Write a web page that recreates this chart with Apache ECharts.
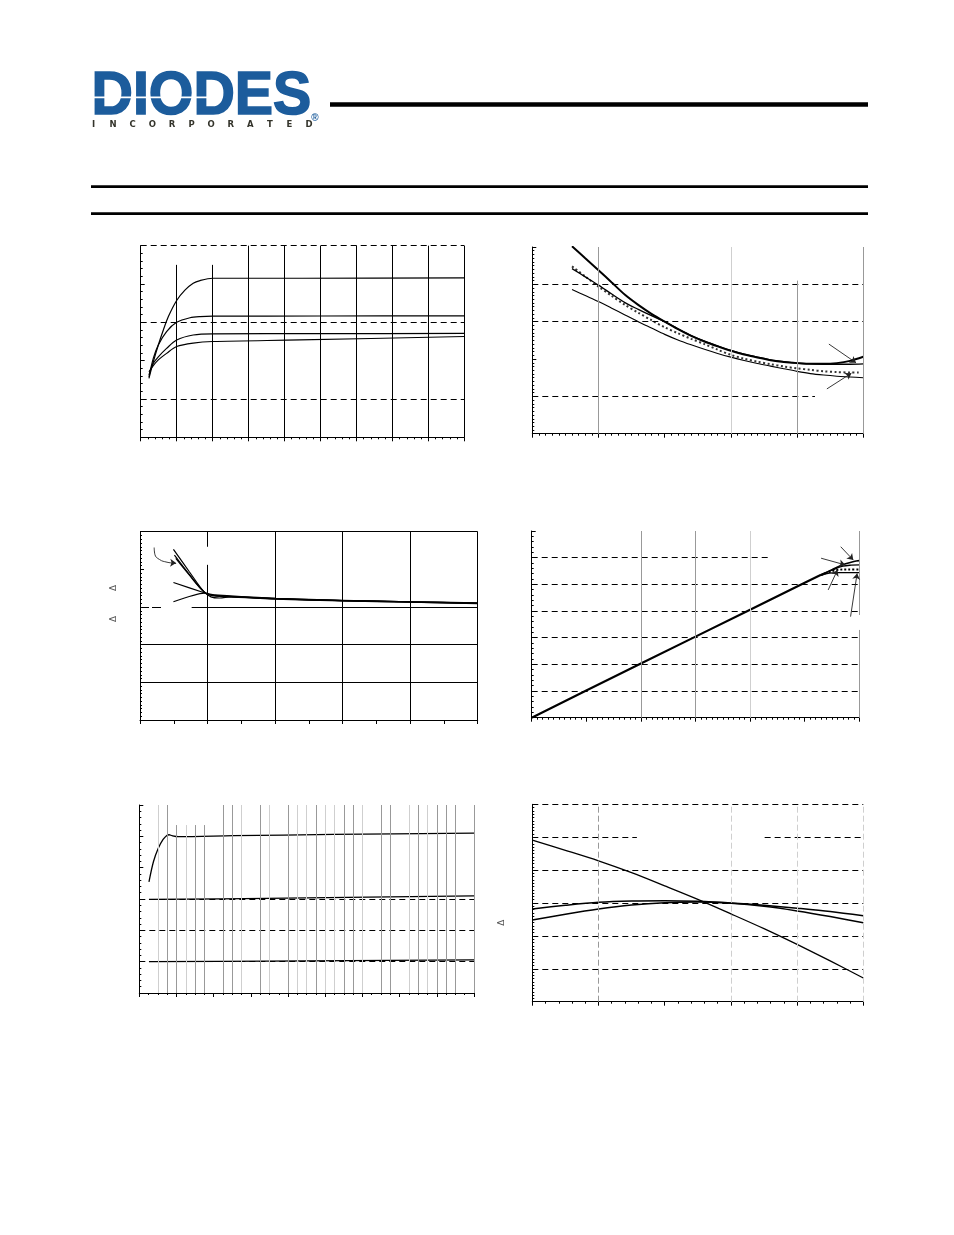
<!DOCTYPE html>
<html><head><meta charset="utf-8">
<script src="https://cdn.jsdelivr.net/npm/echarts@6/dist/echarts.min.js"></script>
<style>html,body{margin:0;padding:0;background:#fff}#c{width:954px;height:1235px}</style>
</head><body><div id="c"></div>
<script>
// ---------- DATA ----------
// Chart 1 (top-left)
const c1A = [[0.23,1.54],[0.35,1.97],[0.49,2.41],[0.63,2.80],[0.77,3.15],[1.0,3.57],[1.23,3.84],[1.46,4.02],[1.65,4.09],[2.0,4.15],[4.5,4.15],[9,4.16]];
const c1B = [[0.23,1.58],[0.35,2.06],[0.49,2.41],[0.72,2.76],[1.0,3.0],[1.37,3.12],[1.65,3.15],[2.0,3.16],[5,3.165],[9,3.17]];
const c1C = [[0.23,1.63],[0.35,1.93],[0.49,2.10],[0.72,2.32],[1.0,2.54],[1.46,2.67],[2.0,2.70],[5,2.705],[9,2.71]];
const c1D = [[0.23,1.71],[0.35,1.87],[0.49,2.02],[0.72,2.19],[1.0,2.37],[1.46,2.46],[2.0,2.50],[4.43,2.54],[9,2.63]];
// Chart 2 (top-right)
const c2T = [[0.6,5.02],[0.8,4.70],[1.0,4.38],[1.2,4.05],[1.4,3.72],[1.6,3.45],[1.8,3.21],[2.0,3.0],[2.2,2.80],[2.4,2.62],[2.6,2.47],[2.8,2.34],[3.0,2.22],[3.2,2.12],[3.4,2.04],[3.6,1.97],[3.8,1.92],[4.0,1.89],[4.2,1.87],[4.4,1.87],[4.6,1.89],[4.8,1.95],[5.0,2.06]];
const c2S = [[0.6,4.42],[0.8,4.20],[1.0,3.98],[1.2,3.74],[1.4,3.51],[1.6,3.33],[1.8,3.16],[2.0,3.0],[2.2,2.81],[2.4,2.63],[2.6,2.48],[2.8,2.35],[3.0,2.23],[3.2,2.13],[3.4,2.05],[3.6,1.98],[3.8,1.93],[4.0,1.89],[4.2,1.87],[4.4,1.86],[4.6,1.86],[4.8,1.86],[5.0,1.87]];
const c2D = [[0.6,4.48],[0.8,4.21],[1.0,3.94],[1.2,3.69],[1.4,3.45],[1.6,3.24],[1.8,3.04],[2.0,2.85],[2.2,2.69],[2.4,2.54],[2.6,2.40],[2.8,2.25],[3.0,2.11],[3.2,2.01],[3.4,1.93],[3.6,1.86],[3.8,1.80],[4.0,1.75],[4.2,1.71],[4.4,1.67],[4.6,1.65],[4.8,1.64],[4.93,1.64]];
const c2L = [[0.6,3.86],[0.8,3.70],[1.0,3.54],[1.2,3.36],[1.4,3.18],[1.6,3.0],[1.8,2.83],[2.0,2.66],[2.2,2.51],[2.4,2.38],[2.6,2.26],[2.8,2.15],[3.0,2.05],[3.2,1.96],[3.4,1.88],[3.6,1.81],[3.8,1.74],[4.0,1.67],[4.2,1.61],[4.4,1.57],[4.6,1.54],[4.8,1.52],[5.0,1.50]];
const c2Arrows = [[[4.48,2.40],[4.89,1.90]],[[4.45,1.20],[4.82,1.62]]];
// Chart 3 (middle-left)
const c3L1 = [[0.99,4.53],[1.45,3.95],[1.9,3.40],[2.1,3.27],[2.35,3.24],[2.7,3.27],[4,3.22],[6,3.17],[8,3.14],[10,3.1]];
const c3L2 = [[1.02,4.38],[1.45,3.88],[1.9,3.40],[2.15,3.30],[2.6,3.28],[4,3.23],[6,3.18],[8,3.14],[10,3.11]];
const c3L3 = [[1.06,4.29],[1.45,3.86],[1.9,3.40],[2.2,3.31],[4,3.22],[6,3.17],[8,3.13],[10,3.1]];
const c3L4 = [[0.99,3.65],[1.9,3.38],[2.2,3.30],[4,3.21],[6,3.16],[8,3.13],[10,3.09]];
const c3L5 = [[0.99,3.14],[1.9,3.37],[2.2,3.32],[4,3.23],[6,3.17],[8,3.14],[10,3.1]];
const c3ArrowPath = [[0.42,4.58],[0.44,4.40],[0.58,4.26],[0.80,4.19],[0.96,4.17]];
const c3ArrowHead = [[[0.93,4.175],[1.07,4.17]]];
// Chart 4 (middle-right)
const c4Main = [[0,0],[1,1.02],[2,2.03],[3,3.04],[4,4.05],[5,5.06],[5.3,5.36]];
const c4B1 = [[5.3,5.36],[5.5,5.55],[5.75,5.77],[5.9,5.86],[6,5.89]];
const c4B2 = [[5.3,5.36],[5.5,5.53],[5.7,5.68],[5.85,5.72],[6,5.73]];
const c4B3 = [[5.3,5.35],[5.45,5.46],[5.6,5.54],[5.8,5.56],[6,5.56]];
const c4B4 = [[5.3,5.34],[5.45,5.42],[5.6,5.44],[6,5.44]];
const c4Arrows = [[[5.66,6.41],[5.89,5.91]],[[5.30,5.98],[5.74,5.73]],[[5.43,4.79],[5.60,5.54]],[[5.84,3.79],[5.96,5.41]]];
// Chart 5 (bottom-left)
const c5Top = [[0.26,3.55],[0.38,4.19],[0.51,4.62],[0.64,4.90],[0.74,5.03],[0.8,5.05],[0.88,5.02],[1.05,4.99],[2.53,5.02],[5.22,5.06],[9,5.10]];
const c5Mid = [[0.26,2.99],[3.42,3.02],[9,3.10]];
const c5Bot = [[0.26,1.0],[3.42,1.02],[9,1.06]];
// Chart 6 (bottom-right)
const c6Steep = [[0,4.91],[0.5,4.60],[1.0,4.28],[1.5,3.92],[2.0,3.52],[2.5,3.11],[3.0,2.67],[3.5,2.22],[4.0,1.74],[4.5,1.24],[5.0,0.72]];
const c6Up = [[0,2.82],[0.5,2.93],[1.0,3.02],[1.5,3.06],[2.0,3.07],[2.5,3.05],[3.0,3.0],[3.5,2.93],[4.0,2.84],[4.5,2.74],[5.0,2.61]];
const c6Low = [[0,2.48],[0.5,2.66],[1.0,2.82],[1.5,2.94],[2.0,3.01],[2.5,3.03],[3.0,2.99],[3.5,2.90],[4.0,2.76],[4.5,2.59],[5.0,2.40]];
// Text
const logoText = 'DIODES';
const logoSub = ['I','N','C','O','R','P','O','R','A','T','E','D'];
const deltaMark = 'Δ';

// ---------- LAYOUT ----------
const grids = [
  {left:140.7, top:245.7, width:323.6, height:191.6},
  {left:532.3, top:247, width:331, height:186.7},
  {left:140, top:531.7, width:337.7, height:188.3},
  {left:531.7, top:531, width:327.6, height:186.7},
  {left:139.3, top:805, width:334.7, height:188},
  {left:532.3, top:804.3, width:331, height:197.4}
];
const axisCfg = [
  {x:[0,9,1,5], y:[0,5,1,5]},
  {x:[0,5,1,10], y:[0,5,1,10]},
  {x:[0,10,1,0], y:[0,5,1,10]},
  {x:[0,6,1,10], y:[0,7,1,5]},
  {x:[0,9,1,4], y:[0,6,1,5]},
  {x:[0,5,1,5], y:[0,6,1,10]}
];
function mkAxis(i, c, inside) {
  return {type:'value', gridIndex:i, min:c[0], max:c[1], interval:c[2],
    axisLine:{show:true, onZero:false, lineStyle:{color:'#000', width:1}},
    axisTick:{show:true, inside:inside, length:4, lineStyle:{color:'#000', width:1}},
    minorTick:{show:c[3]>0, splitNumber:c[3]||5, length:2, lineStyle:{color:'#000', width:1}},
    axisLabel:{show:false}, splitLine:{show:false}, minorSplitLine:{show:false}};
}
const DASH = {color:'#000', width:1, type:[6,4]};
const SOLID = {color:'#000', width:1, type:'solid'};
const GRAY = {color:'#999', width:1, type:'solid'};
const LIGHT = {color:'#cfcfcf', width:1, type:'solid'};
const GRAYD = {color:'#999', width:1, type:[6,3]};
const LIGHTD = {color:'#cfcfcf', width:1, type:[6,3]};
function seg(p1, p2, st) { return [{coord:p1, lineStyle:st}, {coord:p2, lineStyle:st}]; }
function h(y, x1, x2, st) { return seg([x1,y],[x2,y],st); }
function v(x, y1, y2, st) { return seg([x,y1],[x,y2],st); }

const gridLines = [
  // chart 1
  [h(1,0,9,DASH), h(3,0,9,DASH), h(5,0,9,DASH), v(1,0,4.5,SOLID), v(2,0,4.5,SOLID),
   v(3,0,5,SOLID), v(4,0,5,SOLID), v(5,0,5,SOLID), v(6,0,5,SOLID), v(7,0,5,SOLID), v(8,0,5,SOLID), v(9,0,5,SOLID)],
  // chart 2
  [h(4,0,5,DASH), h(3,0,5,DASH), h(1,0,4.27,DASH), v(1,0,5,GRAY), v(3,0,5,LIGHT), v(4,0,4.1,GRAY), v(5,0,5,GRAY)],
  // chart 3
  [h(1,0,10,SOLID), h(2,0,10,SOLID), h(3,0,0.69,{color:'#000',width:1,type:[9,3]}), h(3,1.53,10,SOLID), h(5,0,10,SOLID),
   v(2,0,4.12,SOLID), v(2,4.6,5,SOLID), v(4,0,5,SOLID), v(6,0,5,SOLID), v(8,0,5,SOLID), v(10,0,5,SOLID)],
  // chart 4
  [h(1,0,6,DASH), h(2,0,6,DASH), h(3,0,6,DASH), h(4,0,6,DASH), h(5,0,6,DASH), h(6,0,4.35,DASH),
   v(2,0,7,GRAY), v(3,0,7,GRAY), v(4,0,7,LIGHT), v(6,0,3.29,GRAY), v(6,3.85,7,GRAY)],
  // chart 5
  [h(1,0,9,DASH), h(2,0,9,DASH), h(3,0,9,DASH)],
  // chart 6
  [h(1,0,5,DASH), h(2,0,5,DASH), h(3,0,5,DASH), h(4,0,5,DASH), h(6,0,5,DASH), h(5,0,1.58,DASH), h(5,3.51,5,DASH),
   v(1,0,6,GRAYD), v(3,0,6,LIGHTD), v(4,0,6,LIGHTD), v(5,0,6,LIGHTD)]
];
// chart 5 vertical grid (position, shade)
const c5Vgrid = [[0.5,'L'],[0.75,'G'],[1,'G'],[1.25,'L'],[1.5,'G'],[1.75,'G'],[2.25,'G'],[2.5,'G'],[2.75,'L'],[3.25,'G'],[3.5,'L'],
  [4,'G'],[4.25,'L'],[4.5,'L'],[4.75,'G'],[5,'L'],[5.25,'L'],[5.5,'G'],[5.75,'G'],[6,'L'],[6.5,'G'],[6.75,'G'],[7.25,'L'],[7.5,'G'],
  [7.75,'L'],[8,'G'],[8.25,'G'],[8.5,'G'],[9,'G']];
c5Vgrid.forEach(([x,s]) => {
  const st = s==='G'?GRAY:LIGHT;
  const top = (x>=1 && x<=1.75) ? 5.36 : 6;
  gridLines[4].push(v(x,0,top,st));
});

const series = [];
gridLines.forEach((lines, i) => {
  series.push({type:'line', xAxisIndex:i, yAxisIndex:i, data:[], silent:true, animation:false, z:1,
    markLine:{silent:true, animation:false, symbol:['none','none'], label:{show:false}, emphasis:{disabled:true}, data:lines}});
});
function curve(i, data, style, smooth) {
  return {type:'line', xAxisIndex:i, yAxisIndex:i, data:data, showSymbol:false, symbol:'none',
    smooth: smooth===undefined?0.35:smooth, silent:true, animation:false, z:3,
    lineStyle:Object.assign({color:'#000', width:1.2}, style||{})};
}
function arrows(i, list) {
  return {type:'line', xAxisIndex:i, yAxisIndex:i, data:[], silent:true, animation:false, z:4,
    markLine:{silent:true, animation:false, symbol:['none','arrow'], symbolSize:6, label:{show:false}, emphasis:{disabled:true},
      lineStyle:{color:'#222', width:0.9, type:'solid'},
      data:list.map(p => [{coord:p[0]},{coord:p[1]}])}};
}
// chart 1
series.push(curve(0,c1A,{},0.3), curve(0,c1B,{},0.3), curve(0,c1C,{},0.3), curve(0,c1D,{},0.3));
// chart 2
series.push(curve(1,c2L,{width:1.1},0.3), curve(1,c2D,{width:2,type:[2,2.5],color:'#333'},0.3), curve(1,c2S,{width:1.3},0.3), curve(1,c2T,{width:2},0.3));
series.push(arrows(1,c2Arrows));
// chart 3
series.push(curve(2,c3L1), curve(2,c3L2), curve(2,c3L3), curve(2,c3L4,{},0.2), curve(2,c3L5,{},0.2));
series.push(curve(2,c3ArrowPath,{width:0.9,color:'#222'},0.5), arrows(2,c3ArrowHead));
// chart 4
series.push(curve(3,c4Main,{width:2.2},false), curve(3,c4B1,{width:1.6}), curve(3,c4B2,{width:1.3}), curve(3,c4B3,{width:2,type:[2,2]}), curve(3,c4B4,{width:1.3}));
series.push(arrows(3,c4Arrows));
// chart 5
series.push(curve(4,c5Top,{width:1.3},0.3), curve(4,c5Mid,{width:1.3}), curve(4,c5Bot,{width:1.3}));
// chart 6
series.push(curve(5,c6Steep,{width:1.3},0.3), curve(5,c6Up,{width:1.5},0.3), curve(5,c6Low,{width:1.5},0.3));

const graphic = [
  {type:'text', x:91.5, y:97.5, scaleX:0.94, style:{x:0, y:0, text:logoText, font:'bold 61px "Liberation Sans"', fill:'#1c5c9c', stroke:'#1c5c9c', lineWidth:1.6, textVerticalAlign:'middle'}},
  {type:'rect', shape:{x:92, y:96.6, width:116, height:1.7}, style:{fill:'#fff'}},
  {type:'text', x:315, y:118, style:{text:'®', font:'bold 10px "Liberation Sans"', fill:'#1c5c9c', textAlign:'center', textVerticalAlign:'middle'}},
  {type:'rect', shape:{x:330, y:102.3, width:538, height:4.4}, style:{fill:'#000'}},
  {type:'rect', shape:{x:91, y:185.3, width:777, height:2.6}, style:{fill:'#000'}},
  {type:'rect', shape:{x:91, y:212.3, width:777, height:2.6}, style:{fill:'#000'}},
  {type:'text', x:113.3, y:588, rotation:Math.PI/2, style:{x:0,y:0,text:deltaMark, font:'9px "DejaVu Sans"', fill:'#555', textAlign:'center', textVerticalAlign:'middle'}},
  {type:'text', x:113.3, y:619, rotation:Math.PI/2, style:{x:0,y:0,text:deltaMark, font:'9px "DejaVu Sans"', fill:'#555', textAlign:'center', textVerticalAlign:'middle'}},
  {type:'text', x:501.7, y:922.7, rotation:Math.PI/2, style:{x:0,y:0,text:deltaMark, font:'9px "DejaVu Sans"', fill:'#555', textAlign:'center', textVerticalAlign:'middle'}}
];
logoSub.forEach((ch, k) => {
  graphic.push({type:'text', x:93.5 + k*19.6, y:125, style:{x:0,y:0,text:ch, font:'bold 8.5px "DejaVu Sans"', fill:'#33332a', textAlign:'center', textVerticalAlign:'middle'}});
});

const chart = echarts.init(document.getElementById('c'), null, {renderer:'canvas', width:954, height:1235});
chart.setOption({
  animation:false,
  backgroundColor:'#fff',
  grid: grids.map(g => Object.assign({show:false, containLabel:false}, g)),
  xAxis: axisCfg.map((c,i) => mkAxis(i, c.x, false)),
  yAxis: axisCfg.map((c,i) => mkAxis(i, c.y, true)),
  graphic: graphic,
  series: series
});
</script>
</body></html>
